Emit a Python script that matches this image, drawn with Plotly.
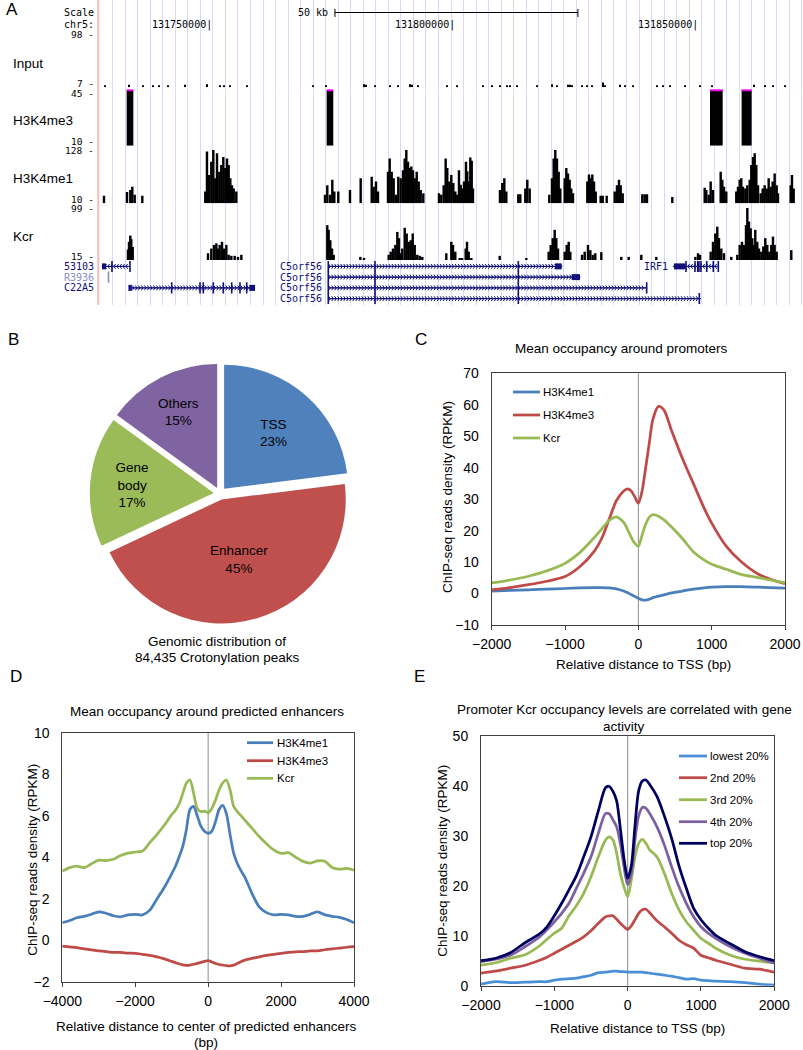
import numpy as np
import plotly.graph_objects as go

W, H = 803, 1050
FONT = "Liberation Sans, Arial, sans-serif"
MONO = "DejaVu Sans Mono, monospace"
NAVY = "#10107a"
AXC = "#404040"


def fx(p):
    return p / W


def fy(p):
    return 1 - p / H


# ---------------- panel A : browser tracks (kb from chr5:131,750,000) ----------------
input_kb = [-22.02, -17.08, -14.20, -12.14, -10.91, -9.06, -5.56, -1.03, 1.65, 2.47,
            3.70, 7.20, 20.79, 23.46, 31.28, 31.69, 33.55, 36.63, 38.28, 40.75,
            41.16, 42.39, 48.36, 50.42, 55.77, 57.62, 59.27, 60.71, 61.33, 62.77,
            66.89, 69.97, 71.00, 73.26, 73.68, 74.09, 76.15, 77.18, 78.20, 80.47,
            80.88, 83.97, 85.00, 86.64, 91.58, 92.82, 94.26, 97.34, 100.43, 102.90,
            111.54, 113.81, 115.45, 117.92]
input_val = [4, 5, 4, 4, 4, 4, 5, 6, 4, 4,
             4, 4, 4, 4, 6, 5, 4, 4, 4, 6,
             5, 4, 4, 4, 4, 4, 4, 4, 4, 4,
             4, 6, 4, 5, 5, 4, 4, 4, 4, 9,
             4, 5, 4, 4, 4, 4, 4, 4, 4, 4,
             5, 4, 4, 4]

me3_start = [-17.56, 23.60, 102.49, 109.00]
me3_end = [-16.19, 24.96, 105.10, 111.06]
me3_val = [100, 100, 100, 100]

me1_kb = [-22.23, -17.49, -16.81, -16.40, -15.91, -14.34,
          -1.38, -1.03, -0.62, -0.14, 0.27, 0.68, 1.03, 1.50, 1.91, 2.33, 2.74, 3.09, 3.43, 3.77, 4.12, 4.47, 5.00,
          23.26, 23.73, 24.28, 24.76, 25.17, 25.99, 28.40, 30.60, 32.87, 33.28, 33.75, 34.16,
          36.22, 36.57, 36.98, 37.39, 37.87, 38.34, 38.83, 39.31, 39.66, 39.99, 40.34, 40.69, 41.02, 41.37,
          41.72, 42.13, 42.54, 42.95, 43.49,
          46.72, 47.19, 47.68, 48.09, 48.42, 48.84, 49.25, 49.66, 50.07, 50.48,
          50.83, 51.18, 51.51, 51.86, 52.27, 52.54, 52.83, 53.16, 53.45, 53.71,
          59.27, 59.74, 60.16, 60.57, 63.04, 63.45, 64.48, 64.89, 65.38,
          69.42, 69.97, 70.32, 70.65, 71.00, 71.35, 71.68,
          72.59, 72.92, 73.26, 73.61, 73.94, 74.29,
          77.24, 77.59, 77.94, 78.27, 78.62, 78.97, 79.99, 80.41, 81.23,
          82.88, 83.35, 83.76, 84.11, 84.52,
          88.56, 89.05, 89.52, 94.73,
          101.40, 101.73, 102.22, 102.63, 103.11,
          104.69, 105.02, 105.37, 105.84,
          107.90, 108.25, 108.60, 108.93, 109.28, 109.76, 110.17, 110.66, 110.99, 111.34, 111.69, 112.02,
          112.37, 112.92, 113.33, 113.74, 114.16, 114.57, 114.98, 115.39, 115.80, 116.21, 116.48,
          119.10, 119.36, 119.71]
me1_val = [14, 21, 25, 31, 16, 14,
           22, 97, 53, 78, 100, 47, 94, 59, 72, 87, 66, 84, 72, 47, 34, 28, 22,
           16, 34, 16, 44, 22, 22, 25, 47, 50, 31, 41, 22,
           59, 84, 59, 47, 16, 50, 47, 62, 84, 100, 78, 66, 69, 62, 47, 59, 41, 25, 19,
           19, 16, 34, 84, 66, 41, 53, 38, 22, 16,
           62, 35, 28, 41, 78, 60, 41, 86, 80, 28,
           25, 38, 47, 22, 17, 17, 28, 44, 28,
           16, 47, 84, 100, 84, 59, 28,
           47, 66, 56, 44, 28, 19,
           41, 54, 47, 54, 41, 22, 14, 14, 14,
           22, 34, 44, 34, 19,
           17, 17, 17, 12,
           29, 25, 16, 41, 25,
           59, 44, 31, 22,
           22, 31, 44, 47, 31, 28, 34, 44, 72, 87, 94, 72, 34, 19, 28, 34, 28, 47, 31, 41, 56, 34, 19,
           34, 53, 28]

kcr_kb = [-17.29, -17.08, -16.81, -16.61, -16.32,
          -0.82, -0.14, 0.41, 0.89, 1.23, 1.58, 2.06, 2.47, 2.95, 3.43, 3.98, 4.67, 5.35, 6.04,
          23.73, 24.01, 24.35, 24.70, 25.04, 30.53, 31.28,
          36.36, 36.78, 37.25, 37.73, 38.14, 38.48, 38.83, 39.16, 39.66, 40.07, 40.48, 40.90, 41.31, 41.72,
          42.25, 42.75, 43.28,
          48.22, 49.25, 49.60, 50.07,
          50.98, 51.45, 52.21, 52.48, 52.83, 53.37, 59.21, 64.69,
          69.29, 69.71, 70.12, 70.53, 70.86, 71.21,
          72.59, 73.00, 73.41, 73.74,
          76.15, 76.70, 77.38, 77.86, 78.35, 78.88, 80.12, 84.23, 85.76,
          88.35, 91.44, 99.47, 100.02, 100.43,
          102.63, 103.11, 103.58, 103.99, 104.34, 104.81, 105.37, 106.87,
          108.11, 108.60, 109.07, 109.49, 109.90, 110.17, 110.51, 110.86, 111.19, 111.54, 111.81, 112.22,
          112.57, 113.05, 113.46, 113.87, 114.28, 114.69, 115.10, 115.45, 115.80, 116.21,
          119.22]
kcr_val = [20, 35, 47, 40, 25,
           13, 22, 29, 32, 22, 29, 35, 22, 29, 10, 8, 8, 6, 10,
           67, 58, 38, 22, 10, 6, 4,
           10, 16, 22, 29, 54, 42, 13, 22, 62, 51, 35, 38, 51, 29, 10, 8, 6,
           13, 35, 29, 16,
           3, 3, 22, 35, 16, 3, 8, 4,
           16, 29, 42, 58, 42, 22,
           16, 29, 35, 16,
           10, 16, 29, 19, 10, 13, 15, 6, 6,
           10, 6, 6, 13, 10,
           16, 35, 51, 64, 42, 22, 13, 6,
           10, 29, 35, 29, 67, 100, 74, 61, 42, 29, 58, 35, 22, 16, 26, 42, 29, 16, 29, 45, 29, 16,
           19]

gene_names = ["53103", "R3936", "C22A5", "C5orf56", "C5orf56", "C5orf56", "C5orf56", "IRF1"]
gene_rows = [0, 1, 2, 0, 1, 2, 3, 0]
gene_start = [-22.43, -21.30, -17.08, 23.93, 23.93, 23.93, 23.93, 95.08]
gene_end = [-16.88, -21.30, 8.85, 71.97, 75.73, 89.46, 100.29, 104.20]
gene_strand = [-1, 0, 1, 1, 1, 1, 1, -1]
thick_gene = [0, 2, 2, 3, 4, 7]
thick_start = [-22.64, -17.20, 7.68, 70.59, 74.02, 95.08]
thick_end = [-21.82, -16.50, 8.85, 71.97, 75.73, 97.34]
exon_gene = [0, 0, 1, 2, 2, 2, 2, 2, 2, 2, 2,
             3, 3, 3, 4, 4, 4, 5, 5, 5, 5, 6, 6, 6, 6,
             7, 7, 7, 7, 7, 7, 7, 7]
exon_pos = [-20.58, -16.88, -21.30, -8.30, -2.47, -1.79, 0.27, 2.33, 4.05, 5.76, 7.14,
            23.93, 33.55, 63.04, 23.93, 33.55, 63.04, 23.93, 33.55, 63.04, 89.46, 23.93, 33.55, 63.04, 100.29,
            97.55, 99.40, 99.96, 100.22, 100.63, 101.81, 103.17, 104.20]

# ---------------- panel B ----------------
pie_labels = ["TSS", "Enhancer", "Gene body", "Others"]
pie_text = ["TSS", "Enhancer", "Gene<br>body", "Others"]
pie_values = [23, 45, 17, 15]
pie_colors = ["#4F81BD", "#C0504D", "#9BBB59", "#8064A2"]

# ---------------- panel C ----------------
c_x = [-2000, -1750, -1500, -1250, -1000, -800, -600, -500, -400, -300, -200, -150, -100, -50, 0,
       50, 100, 150, 200, 275, 350, 450, 600, 750, 900, 1000, 1200, 1400, 1650, 2000]
c_me1 = [0.8, 1.0, 1.2, 1.4, 1.6, 1.8, 1.9, 1.9, 1.8, 1.5, 0.8, 0.3, -0.3, -0.9, -1.5,
         -2.0, -2.1, -1.8, -1.3, -0.8, -0.4, 0.2, 0.8, 1.4, 1.8, 2.0, 2.2, 2.2, 2.0, 1.7]
c_me3 = [1.2, 1.9, 2.8, 3.9, 5.4, 8.5, 13.5, 17.5, 23.5, 29.5, 32.6, 33.3, 32.7, 30.8, 28.7,
         32.5, 40.0, 48.0, 55.5, 59.5, 58.3, 52.0, 43.0, 35.0, 27.0, 22.4, 15.0, 10.2, 6.0, 3.1]
c_kcr = [3.4, 4.3, 5.5, 7.2, 9.6, 13.0, 17.8, 20.5, 23.2, 24.4, 22.6, 20.5, 18.0, 16.0, 15.0,
         18.5, 22.0, 24.3, 25.1, 24.6, 23.4, 21.2, 17.5, 13.3, 10.6, 9.3, 7.7, 6.1, 5.0, 3.4]

# ---------------- panel D ----------------
d_x = [-4000, -3800, -3600, -3400, -3200, -3000, -2800, -2600, -2400, -2200, -2000, -1800, -1600,
       -1400, -1200, -1000, -900, -800, -700, -600, -500, -400, -300, -200, -100, 0, 100, 200, 300,
       400, 500, 600, 700, 800, 900, 1000, 1200, 1400, 1600, 1800, 2000, 2200, 2400, 2600, 2800,
       3000, 3200, 3400, 3600, 3800, 4000]
d_me1 = [0.84, 0.95, 1.08, 1.15, 1.25, 1.37, 1.30, 1.18, 1.13, 1.22, 1.24, 1.22, 1.45,
         2.00, 2.55, 3.20, 3.55, 4.00, 4.50, 5.30, 6.30, 6.45, 6.00, 5.50, 5.25, 5.15, 5.25, 5.70, 6.30,
         6.50, 6.10, 5.10, 4.20, 3.70, 3.35, 3.06, 2.26, 1.61, 1.33, 1.22, 1.25, 1.22, 1.15, 1.15, 1.25,
         1.37, 1.22, 1.15, 1.10, 1.00, 0.84]
d_me3 = [-0.28, -0.32, -0.36, -0.42, -0.47, -0.51, -0.55, -0.59, -0.59, -0.62, -0.63, -0.68, -0.73,
         -0.80, -0.90, -1.02, -1.08, -1.14, -1.19, -1.21, -1.20, -1.16, -1.12, -1.07, -1.02, -0.99, -1.05,
         -1.12, -1.17, -1.20, -1.23, -1.24, -1.20, -1.12, -1.04, -0.96, -0.88, -0.80, -0.73, -0.68, -0.63,
         -0.59, -0.56, -0.55, -0.52, -0.51, -0.46, -0.42, -0.38, -0.34, -0.31]
d_kcr = [3.33, 3.50, 3.57, 3.50, 3.68, 3.86, 3.84, 3.90, 4.08, 4.20, 4.25, 4.30, 4.70,
         5.10, 5.55, 6.05, 6.25, 6.55, 7.05, 7.55, 7.72, 7.10, 6.35, 6.20, 6.22, 6.14, 6.35, 6.75, 7.25,
         7.58, 7.72, 7.25, 6.45, 6.20, 6.00, 5.80, 5.40, 5.00, 4.65, 4.35, 4.18, 4.22, 4.00, 3.80, 3.72,
         3.82, 3.80, 3.50, 3.42, 3.46, 3.38]

# ---------------- panel E ----------------
e_x = [-2000, -1800, -1600, -1400, -1200, -1100, -1000, -900, -800, -700, -600, -500, -400, -300,
       -250, -200, -150, -100, -50, 0, 50, 100, 150, 200, 250, 300, 400, 500, 600, 700, 800, 900,
       1000, 1100, 1200, 1400, 1600, 1800, 2000]
e_low = [0.3, 0.8, 0.6, 0.7, 0.8, 0.8, 1.1, 1.3, 1.4, 1.5, 1.8, 2.1, 2.6, 2.7,
         2.8, 2.9, 2.9, 2.8, 2.8, 2.7, 2.7, 2.7, 2.7, 2.7, 2.6, 2.5, 2.3, 2.1, 1.9, 1.6, 1.3, 1.4,
         1.1, 1.0, 0.9, 0.8, 0.6, 0.3, 0.1]
e_2nd = [2.5, 2.9, 3.5, 4.1, 5.1, 5.7, 6.5, 7.3, 8.1, 8.9, 9.8, 11.0, 12.5, 13.8,
         14.0, 14.0, 13.3, 12.5, 11.8, 11.3, 12.0, 13.2, 14.5, 15.2, 15.3, 14.6, 13.0, 11.8, 10.5, 9.1,
         8.2, 7.5, 6.1, 5.6, 5.1, 4.3, 3.5, 3.3, 2.7]
e_3rd = [4.1, 4.6, 5.5, 6.2, 8.0, 9.3, 10.5, 11.5, 14.0, 16.0, 18.5, 21.8, 25.8, 29.2,
         29.8, 29.2, 26.5, 22.5, 19.8, 17.8, 21.2, 25.8, 28.5, 29.3, 28.5, 27.2, 25.8, 22.5, 18.5, 15.2,
         12.8, 11.1, 9.5, 8.5, 7.5, 6.1, 5.3, 4.9, 4.6]
e_4th = [4.8, 5.3, 6.1, 7.8, 9.8, 11.2, 12.8, 14.5, 16.5, 19.5, 22.5, 25.8, 30.5, 34.5,
         34.4, 33.2, 31.8, 28.5, 23.8, 20.2, 22.5, 29.2, 34.0, 35.7, 35.5, 34.5, 31.8, 28.2, 23.8, 19.8,
         16.5, 13.8, 11.8, 10.5, 9.5, 7.8, 6.5, 5.5, 4.5]
e_top = [5.0, 5.5, 6.6, 8.6, 10.4, 11.8, 14.0, 16.5, 19.2, 22.0, 25.8, 29.8, 35.0, 39.7,
         39.9, 38.9, 37.0, 31.5, 25.5, 21.5, 24.0, 32.0, 39.0, 41.0, 41.2, 40.3, 37.9, 34.0, 29.5, 24.0,
         19.5, 15.5, 13.2, 11.5, 10.1, 8.4, 6.8, 5.8, 5.0]

fig = go.Figure()

# ===== panel A =====
fig.add_trace(go.Scatter(x=[None], y=[None], xaxis="x", yaxis="y", showlegend=False))

fig.add_trace(go.Bar(x=input_kb, y=input_val, width=0.38, marker=dict(color="black", line_width=0),
                     xaxis="x", yaxis="y2", showlegend=False))
me3_mid = [(s + e) / 2 for s, e in zip(me3_start, me3_end)]
me3_w = [e - s for s, e in zip(me3_start, me3_end)]
fig.add_trace(go.Bar(x=me3_mid, y=me3_val, width=me3_w, marker=dict(color="black", line_width=0),
                     xaxis="x", yaxis="y3", showlegend=False))
clip_x = []
clip_y = []
for s, e, v in zip(me3_start, me3_end, me3_val):
    if v >= 100:
        clip_x += [s, e, None]
        clip_y += [99, 99, None]
fig.add_trace(go.Scatter(x=clip_x, y=clip_y, mode="lines", line=dict(color="#FF00FF", width=2.5),
                         xaxis="x", yaxis="y3", showlegend=False, cliponaxis=False))
fig.add_trace(go.Bar(x=me1_kb, y=me1_val, width=0.5, marker=dict(color="black", line_width=0),
                     xaxis="x", yaxis="y4", showlegend=False))
fig.add_trace(go.Bar(x=kcr_kb, y=kcr_val, width=0.5, marker=dict(color="black", line_width=0),
                     xaxis="x", yaxis="y5", showlegend=False))

# gene models
for i, name in enumerate(gene_names):
    col = "#8c8cc8" if name == "R3936" else NAVY
    s, e, r = gene_start[i], gene_end[i], gene_rows[i]
    if e > s:
        fig.add_trace(go.Scatter(x=[s, e], y=[r, r], mode="lines", line=dict(color=col, width=1),
                                 xaxis="x", yaxis="y6", showlegend=False))
        if gene_strand[i] != 0:
            cx = np.arange(s + 0.4, e - 0.2, 0.62)
            fig.add_trace(go.Scatter(x=cx, y=[r] * len(cx), mode="markers",
                                     marker=dict(symbol="y-right" if gene_strand[i] > 0 else "y-left",
                                                 size=4, line=dict(color=col, width=1)),
                                     xaxis="x", yaxis="y6", showlegend=False))
    ex = [p for g, p in zip(exon_gene, exon_pos) if g == i]
    fig.add_trace(go.Scatter(x=ex, y=[r] * len(ex), mode="markers",
                             marker=dict(symbol="line-ns", size=8, line=dict(color=col, width=1.6)),
                             xaxis="x", yaxis="y6", showlegend=False))
tx, ty = [], []
for g, s, e in zip(thick_gene, thick_start, thick_end):
    tx += [s, e, None]
    ty += [gene_rows[g], gene_rows[g], None]
fig.add_trace(go.Scatter(x=tx, y=ty, mode="lines", line=dict(color=NAVY, width=6),
                         xaxis="x", yaxis="y6", showlegend=False))

grid_kb = [-20.44 + 2.579 * k for k in range(56)]

annotations = []
shapes = []


def note(text, x, y, size=13.5, xanchor="center", yanchor="middle", font=FONT, color="black",
         xref="paper", yref="paper", angle=0):
    annotations.append(dict(text=text, x=x, y=y, xref=xref, yref=yref, xanchor=xanchor,
                            yanchor=yanchor, showarrow=False, textangle=angle,
                            font=dict(family=font, size=size, color=color)))


# left-hand labels of browser
note("Scale", fx(96), fy(12), size=10, xanchor="right", font=MONO)
note("chr5:", fx(96), fy(24.5), size=10, xanchor="right", font=MONO)
for txt, ypx in [("98 -", 35), ("7 -", 83.8), ("45 -", 93.2), ("10 -", 141.2), ("128 -", 150.5),
                 ("10 -", 199.5), ("99 -", 208.8), ("15 -", 256.7)]:
    note(txt, fx(96), fy(ypx), size=9.5, xanchor="right", font=MONO)
for txt, ypx in [("Input", 63), ("H3K4me3", 120), ("H3K4me1", 178), ("Kcr", 236.7)]:
    note(txt, fx(11), fy(ypx), size=13.5, xanchor="left")
for i, name in enumerate(gene_names):
    col = "#8c8cc8" if name == "R3936" else NAVY
    ypx = [266.4, 277.1, 287.9, 298.6][gene_rows[i]]
    if gene_start[i] < 0:
        note(name, fx(96), fy(ypx), size=10, xanchor="right", font=MONO, color=col)
    else:
        note(name, gene_start[i] - 0.8, fy(ypx), size=10, xanchor="right", font=MONO,
             color=col, xref="x")
# coordinates and scale bar
for pos in [0, 50, 100]:
    note("%d|" % (131750000 + pos * 1000), pos + 0.35, fy(25), size=10, xanchor="right",
         font=MONO, xref="x")
note("50 kb", 24.2, fy(12), size=10, xanchor="right", font=MONO, xref="x")
shapes.append(dict(type="line", xref="x", yref="paper", x0=25.3, x1=75.3, y0=fy(12.5), y1=fy(12.5),
                   line=dict(color="black", width=1)))
for xb in [25.3, 75.3]:
    shapes.append(dict(type="line", xref="x", yref="paper", x0=xb, x1=xb, y0=fy(9), y1=fy(17),
                       line=dict(color="black", width=1)))
shapes.append(dict(type="line", xref="paper", yref="paper", x0=fx(98.3), x1=fx(98.3), y0=fy(305), y1=1,
                   line=dict(color="#FFB8B8", width=2)))

# ===== panel B =====
fig.add_trace(go.Pie(labels=pie_labels, values=pie_values, text=pie_text, sort=False,
                     direction="clockwise", rotation=0, pull=[0.05] * 4,
                     marker=dict(colors=pie_colors, line=dict(width=0)),
                     texttemplate="%{text}<br>%{value}%", textposition="inside",
                     insidetextorientation="horizontal",
                     textfont=dict(family=FONT, size=13.5, color="black"),
                     domain=dict(x=[fx(89.8), fx(350.2)], y=[fy(623.7), fy(363.3)]),
                     showlegend=False, hoverinfo="label+percent"))
note("Genomic distribution of", fx(217), fy(641))
note("84,435 Crotonylation peaks", fx(217), fy(657))

# ===== panels C, D, E =====
LW = 2.75
c_series = [("H3K4me1", c_me1, "#4A7EBB"), ("H3K4me3", c_me3, "#BE4B48"), ("Kcr", c_kcr, "#98B954")]
d_series = [("H3K4me1", d_me1, "#4A7EBB"), ("H3K4me3", d_me3, "#BE4B48"), ("Kcr", d_kcr, "#98B954")]
e_series = [("lowest 20%", e_low, "#4A8FD6"), ("2nd 20%", e_2nd, "#BE4B48"), ("3rd 20%", e_3rd, "#98B954"),
            ("4th 20%", e_4th, "#7D60A0"), ("top 20%", e_top, "#000060")]

panels = [
    ("x2", "y7", c_x, c_series, (513, 540, 541, [392, 415, 438])),
    ("x3", "y8", d_x, d_series, (247, 273, 275, [742.7, 760.7, 778.3])),
    ("x4", "y9", e_x, e_series, (679, 707, 708, [756, 777.7, 799.7, 821.7, 843.3])),
]
for xa, ya, xs, series, leg in panels:
    for name, ys, col in series:
        fig.add_trace(go.Scatter(x=xs, y=ys, mode="lines", name=name,
                                 line=dict(color=col, width=LW, shape="spline", smoothing=0.8),
                                 xaxis=xa, yaxis=ya, showlegend=False))
    shapes.append(dict(type="line", xref=xa, yref=ya + " domain", x0=0, x1=0, y0=0, y1=1,
                       line=dict(color="#8C8C8C", width=1), layer="below"))
    lx0, lx1, tx0, lys = leg
    for (name, ys, col), ly in zip(series, lys):
        shapes.append(dict(type="line", xref="paper", yref="paper", x0=fx(lx0), x1=fx(lx1),
                           y0=fy(ly), y1=fy(ly), line=dict(color=col, width=LW)))
        note(name, fx(tx0), fy(ly), size=11.5, xanchor="left")

# titles / axis titles
note("Mean occupancy around promoters", fx(621), fy(348))
note("Relative distance to TSS (bp)", fx(643), fy(664))
note("ChIP-seq reads density (RPKM)", fx(447), fy(497), angle=-90)
note("Mean occupancy around predicted enhancers", fx(207), fy(711.7))
note("Relative distance to center of predicted enhancers", fx(206), fy(1026.7))
note("(bp)", fx(206), fy(1042))
note("ChIP-seq reads density (RPKM)", fx(31.7), fy(860), angle=-90)
note("Promoter Kcr occupancy levels are correlated with gene", fx(624), fy(709))
note("activity", fx(624), fy(726))
note("Relative distance to TSS (bp)", fx(637), fy(1028.3))
note("ChIP-seq reads density (RPKM)", fx(441.7), fy(861), angle=-90)

# panel letters
for letter, xp, yp in [("A", 4, 10), ("B", 6, 340), ("C", 413, 340), ("D", 8, 676), ("E", 412, 676)]:
    note(letter, fx(xp), fy(yp), size=17, xanchor="left")

hidden = dict(visible=False, showgrid=False, zeroline=False, fixedrange=True)
xbase = dict(showline=True, mirror=True, linecolor=AXC, linewidth=1, showgrid=False, zeroline=False,
             ticks="outside", ticklen=4, tickcolor=AXC, ticklabelstandoff=2, ticklabeloverflow="allow",
             tickfont=dict(family=FONT, size=14, color="black"))
ybase = dict(showline=True, mirror=True, linecolor=AXC, linewidth=1, showgrid=False, zeroline=False,
             ticks="", ticklabelstandoff=9, tickfont=dict(family=FONT, size=14, color="black"))

fig.update_layout(
    width=W, height=H, margin=dict(l=0, r=0, t=0, b=0), template="none",
    paper_bgcolor="white", plot_bgcolor="white", barmode="overlay", showlegend=False,
    font=dict(family=FONT, color="black"),
    xaxis=dict(domain=[fx(98), 1], range=[-23.46, 121.63], anchor="y", showticklabels=False, ticks="",
               tickmode="array", tickvals=grid_kb, showgrid=True, gridcolor="#D8D8FF", gridwidth=1,
               zeroline=False, showline=False, fixedrange=True),
    yaxis=dict(domain=[fy(305), 1], range=[0, 1], anchor="x", **hidden),
    yaxis2=dict(domain=[fy(87.3), fy(35)], range=[0, 100], anchor="x", **hidden),
    yaxis3=dict(domain=[fy(145.7), fy(89.5)], range=[0, 100], anchor="x", **hidden),
    yaxis4=dict(domain=[fy(203.3), fy(150)], range=[0, 100], anchor="x", **hidden),
    yaxis5=dict(domain=[fy(260), fy(208)], range=[0, 100], anchor="x", **hidden),
    yaxis6=dict(domain=[fy(304), fy(261)], range=[3.5, -0.5], anchor="x", **hidden),
    xaxis2=dict(domain=[fx(491.7), fx(785)], range=[-2000, 2000], dtick=1000, anchor="y7", **xbase),
    yaxis7=dict(domain=[fy(625), fy(373.3)], range=[-10, 70], dtick=10, anchor="x2", **ybase),
    xaxis3=dict(domain=[fx(62.3), fx(354)], range=[-4000, 4000], dtick=2000, anchor="y8", **xbase),
    yaxis8=dict(domain=[fy(981.7), fy(732.7)], range=[-2, 10], dtick=2, anchor="x3", **ybase),
    xaxis4=dict(domain=[fx(481), fx(774.3)], range=[-2000, 2000], dtick=1000, anchor="y9", **xbase),
    yaxis9=dict(domain=[fy(985.7), fy(736)], range=[0, 50], dtick=10, anchor="x4", **ybase),
    annotations=annotations,
    shapes=shapes,
)

fig.write_html("out.html", config={"displayModeBar": False},
               post_script="document.body.style.margin='0px';")
